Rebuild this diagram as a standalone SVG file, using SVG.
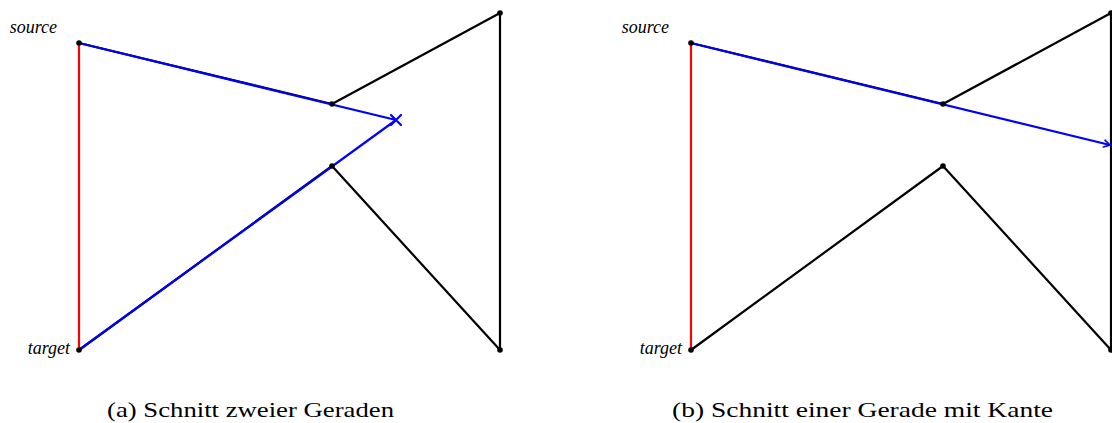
<svg xmlns="http://www.w3.org/2000/svg" width="1112" height="423" viewBox="0 0 1112 423">
<style>
.edge{fill:none;stroke:#000;stroke-width:2.2;stroke-linecap:round;stroke-linejoin:round}
.red{fill:none;stroke:#ff0000;stroke-width:2.2}
.blue{fill:none;stroke:#0000ff;stroke-width:2.2;stroke-linecap:round}
.dot{fill:#000}
.lbl{font-family:"Liberation Serif","DejaVu Serif",serif;font-style:italic;font-size:18px;fill:#000}
.cap{font-family:"Liberation Serif","DejaVu Serif",serif;font-size:21px;fill:#000}
</style>
<defs>
<marker id="arr" viewBox="0 0 10 10" refX="9" refY="5" markerWidth="10" markerHeight="10" markerUnits="userSpaceOnUse" orient="auto">
<path d="M3,1.5 L9,5 L3,8.5" fill="none" stroke="#0000ff" stroke-width="1.6" stroke-linecap="round"/>
</marker>
</defs>
<g id="connectors">
<path class="edge" d="M79,43 L332,104 L500,13 L500,350 L332,166 L79,350"/>
<line class="red" x1="79" y1="43" x2="79" y2="350"/>
<line class="blue" x1="79" y1="43" x2="396" y2="120"/>
<line class="blue" x1="79" y1="350" x2="396" y2="120"/>
<path class="blue" d="M391,115 L401,125 M401,115 L391,125"/>
<path class="edge" d="M691,43 L943,104 L1111,13 L1111,350 L943,166 L691,350"/>
<line class="red" x1="691" y1="43" x2="691" y2="350"/>
<line class="blue" x1="691" y1="43" x2="1110" y2="145" marker-end="url(#arr)"/>
</g>
<g id="panel-a-nodes">
<g id="a-source"><circle class="dot" cx="79" cy="43" r="2.8"/><text class="lbl" x="57" y="33" text-anchor="end">source</text></g>
<g id="a-target"><circle class="dot" cx="79" cy="350" r="2.8"/><text class="lbl" x="70" y="354" text-anchor="end">target</text></g>
<g id="a-v1"><circle class="dot" cx="332" cy="104" r="2.8"/></g>
<g id="a-v2"><circle class="dot" cx="332" cy="166" r="2.8"/></g>
<g id="a-v3"><circle class="dot" cx="500" cy="13" r="2.8"/></g>
<g id="a-v4"><circle class="dot" cx="500" cy="350" r="2.8"/></g>
</g>
<g id="panel-b-nodes">
<g id="b-source"><circle class="dot" cx="691" cy="43" r="2.8"/><text class="lbl" x="669" y="33" text-anchor="end">source</text></g>
<g id="b-target"><circle class="dot" cx="691" cy="350" r="2.8"/><text class="lbl" x="682" y="354" text-anchor="end">target</text></g>
<g id="b-v1"><circle class="dot" cx="943" cy="104" r="2.8"/></g>
<g id="b-v2"><circle class="dot" cx="943" cy="166" r="2.8"/></g>
<g id="b-v3"><circle class="dot" cx="1111" cy="13" r="2.8"/></g>
<g id="b-v4"><circle class="dot" cx="1111" cy="350" r="2.8"/></g>
</g>
<g id="captions">
<text class="cap" x="107" y="417" textLength="287" lengthAdjust="spacingAndGlyphs">(a) Schnitt zweier Geraden</text>
<text class="cap" x="672" y="417" textLength="381" lengthAdjust="spacingAndGlyphs">(b) Schnitt einer Gerade mit Kante</text>
</g>
</svg>
